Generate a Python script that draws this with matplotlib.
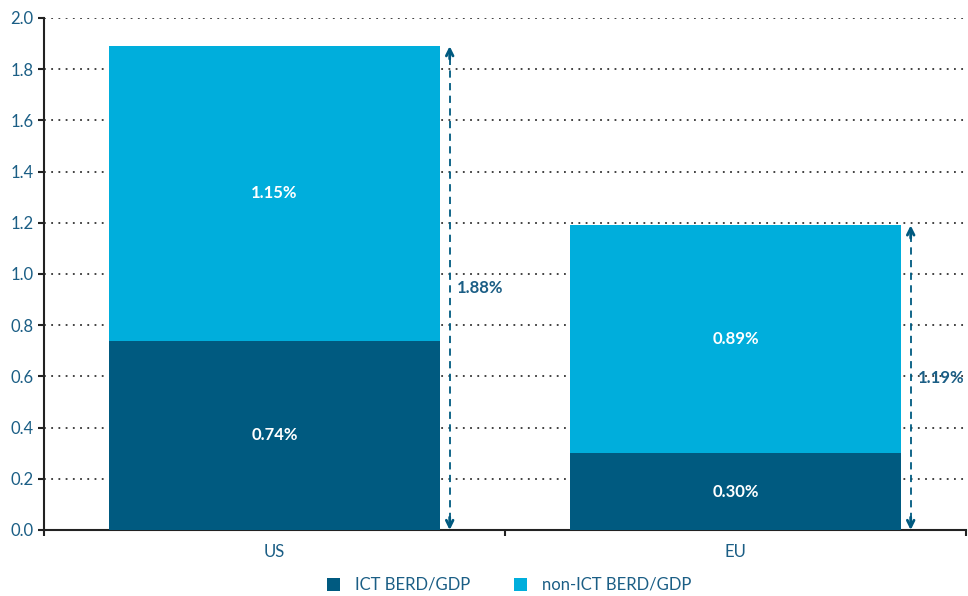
import matplotlib
matplotlib.use('Agg')
import matplotlib.pyplot as plt
import numpy as np

plt.rcParams['font.family'] = ['Lato', 'DejaVu Sans']

categories = ['US', 'EU']
ict = [0.74, 0.30]
non_ict = [1.15, 0.89]
total_labels = ['1.88%', '1.19%']
ict_labels = ['0.74%', '0.30%']
non_ict_labels = ['1.15%', '0.89%']

DARK = '#005A80'
LIGHT = '#00AEDC'
TEXT = '#1B5E85'

fig = plt.figure(figsize=(9.68, 5.96), dpi=100)
ax = fig.add_axes([44 / 968, 1 - 530 / 596, 922 / 968, 512 / 596])

x = np.arange(len(categories))
w = 0.72
ax.bar(x, ict, w, color=DARK, zorder=3, label='ICT BERD/GDP')
ax.bar(x, non_ict, w, bottom=ict, color=LIGHT, zorder=3, label='non-ICT BERD/GDP')

for i in range(len(categories)):
    ax.text(x[i], ict[i] / 2, ict_labels[i], ha='center', va='center',
            color='white', fontweight='bold', fontsize=12, zorder=4)
    ax.text(x[i], ict[i] + non_ict[i] / 2, non_ict_labels[i], ha='center', va='center',
            color='white', fontweight='bold', fontsize=12, zorder=4)

    # dashed double arrow showing the total
    top = ict[i] + non_ict[i]
    ax_x = x[i] + 0.38
    ax.vlines(ax_x, 0.04, top - 0.04, colors=DARK, linestyles=(0, (4, 3)),
              linewidth=1.3, zorder=4)
    ax.annotate('', xy=(ax_x, top), xytext=(ax_x, top - 0.05),
                arrowprops=dict(arrowstyle='->', color=DARK, lw=2,
                                mutation_scale=12, shrinkA=0, shrinkB=0), zorder=4)
    ax.annotate('', xy=(ax_x, 0.0), xytext=(ax_x, 0.05),
                arrowprops=dict(arrowstyle='->', color=DARK, lw=2,
                                mutation_scale=12, shrinkA=0, shrinkB=0), zorder=4)
    ax.text(x[i] + 0.395, top / 2, total_labels[i], ha='left', va='center',
            color=TEXT, fontweight='bold', fontsize=12, zorder=1)

ax.set_xlim(-0.5, 1.5)
ax.set_ylim(0, 2.0)
ax.set_yticks(np.arange(0, 2.01, 0.2))
ax.set_yticklabels([f'{v:.1f}' for v in np.arange(0, 2.01, 0.2)])
ax.set_xticks([-0.5, 0.5, 1.5])
ax.set_xticklabels([])
ax.set_xticks(x, minor=True)
ax.set_xticklabels(categories, minor=True)
ax.tick_params(axis='x', which='minor', length=0, pad=10, labelsize=12, labelcolor=TEXT)
ax.tick_params(axis='x', which='major', length=4, width=1.5, color='#222222')
ax.tick_params(axis='y', length=4, width=1.5, color='#222222', labelsize=12, labelcolor=TEXT)

ax.grid(axis='y', linestyle=(0, (1, 3)), color='#333333', linewidth=1.3, zorder=0)
ax.set_axisbelow(True)
for s in ['top', 'right']:
    ax.spines[s].set_visible(False)
for s in ['left', 'bottom']:
    ax.spines[s].set_linewidth(1.5)
    ax.spines[s].set_color('#222222')

leg = fig.legend(loc='lower center', bbox_to_anchor=(0.526, -0.02), ncol=2, frameon=False,
                 fontsize=12, handlelength=0.8, handleheight=0.8, columnspacing=2.6,
                 handletextpad=0.9)
for t in leg.get_texts():
    t.set_color(TEXT)

fig.savefig('out.png', dpi=100)
